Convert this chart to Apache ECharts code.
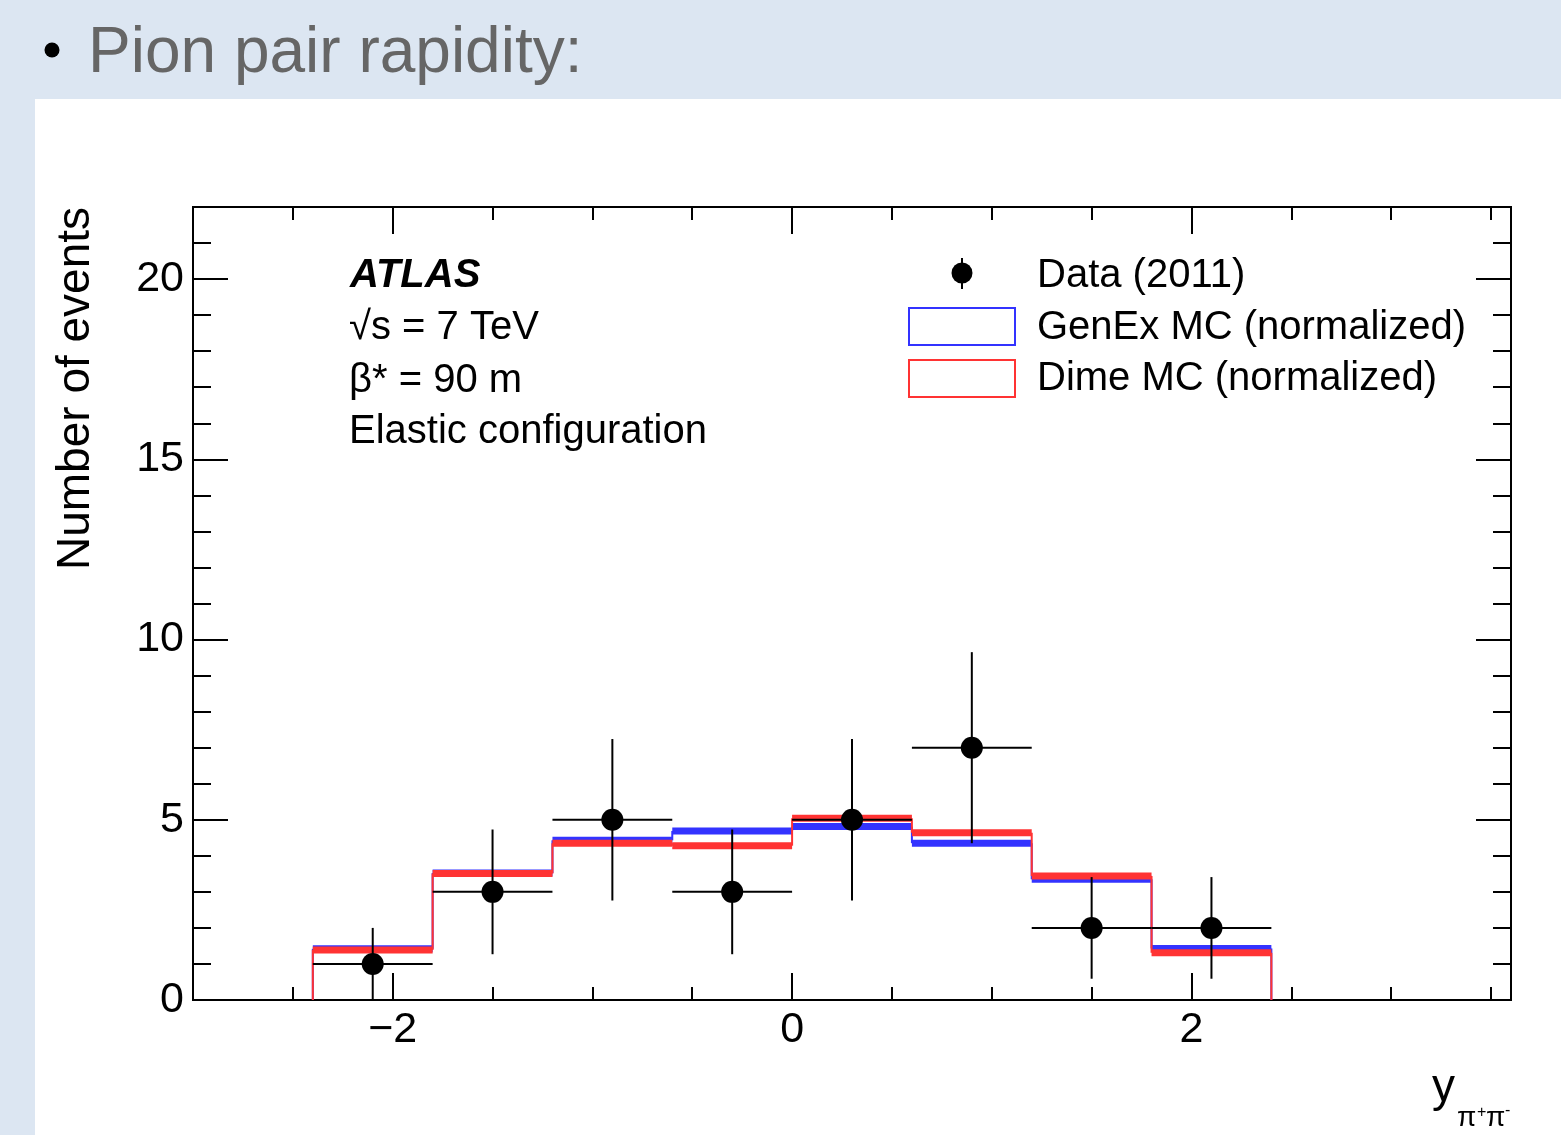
<!DOCTYPE html>
<html>
<head>
<meta charset="utf-8">
<title>Pion pair rapidity</title>
<script src="https://cdn.jsdelivr.net/npm/echarts@6.0.0/dist/echarts.min.js"></script>
<style>
  html, body { margin: 0; padding: 0; }
  body { width: 1561px; height: 1135px; background: #dce6f2; position: relative; overflow: hidden; }
  #panel { position: absolute; left: 35px; top: 99px; width: 1526px; height: 1036px; background: #fff; }
  #chart { position: absolute; left: 0; top: 0; width: 1561px; height: 1135px; }
</style>
</head>
<body>
<div id="panel"></div>
<div id="chart"></div>
<script>
// histogram bins in y(pi+pi-)
var binEdges = [-2.4, -1.8, -1.2, -0.6, 0, 0.6, 1.2, 1.8, 2.4];
// Data (2011): counts and stat. errors
var dataCounts = [1, 3, 5, 3, 5, 7, 2, 2];
var dataErrors = [1.0, 1.73, 2.24, 1.73, 2.24, 2.65, 1.41, 1.41];
// MC predictions (normalized)
var genexValues = [1.42, 3.52, 4.43, 4.69, 4.81, 4.35, 3.35, 1.43];
var dimeValues = [1.39, 3.51, 4.35, 4.28, 5.04, 4.64, 3.44, 1.31];
// tick labels / tick positions
var xMajorTicks = [-2, 0, 2];
var xMinorTicks = [-2.5, -2, -1.5, -1, -0.5, 0, 0.5, 1, 1.5, 2, 2.5, 3, 3.5];
var yMajorTicks = [0, 5, 10, 15, 20];
var yMinorTicks = [1, 2, 3, 4, 6, 7, 8, 9, 11, 12, 13, 14, 16, 17, 18, 19, 21];

var FONT = '"Liberation Sans", Arial, Helvetica, sans-serif';

// rows for custom series
var dataRows = dataCounts.map(function (v, i) {
  return [binEdges[i], binEdges[i + 1], v, dataErrors[i]];
});
function mcRows(values) {
  return values.map(function (v, i) {
    return [binEdges[i], binEdges[i + 1], v, i === 0 ? 0 : values[i - 1], i === values.length - 1 ? 1 : 0];
  });
}

// step histogram with a thick band on each bin
function histItem(color) {
  return function (params, api) {
    var x0 = api.value(0), x1 = api.value(1), y = api.value(2);
    var yPrev = api.value(3), last = api.value(4);
    var pL = api.coord([x0, y]), pR = api.coord([x1, y]);
    var pPrev = api.coord([x0, yPrev]), pZero = api.coord([x1, 0]);
    var children = [
      { type: 'rect', shape: { x: pL[0], y: pL[1] - 3.5, width: pR[0] - pL[0], height: 7 }, style: { fill: color } },
      { type: 'line', shape: { x1: pL[0], y1: pPrev[1], x2: pL[0], y2: pL[1] }, style: { stroke: color, lineWidth: 2 } }
    ];
    if (last) {
      children.push({ type: 'line', shape: { x1: pR[0], y1: pR[1], x2: pR[0], y2: pZero[1] }, style: { stroke: color, lineWidth: 2 } });
    }
    return { type: 'group', children: children };
  };
}

// data points with x (bin width) and y (stat) error bars
function dataItem(params, api) {
  var x0 = api.value(0), x1 = api.value(1), y = api.value(2), e = api.value(3);
  var xc = (x0 + x1) / 2;
  var c = api.coord([xc, y]), l = api.coord([x0, y]), r = api.coord([x1, y]);
  var lo = api.coord([xc, Math.max(0, y - e)]), hi = api.coord([xc, y + e]);
  var st = { stroke: '#000', lineWidth: 2 };
  return {
    type: 'group',
    children: [
      { type: 'line', shape: { x1: l[0], y1: l[1], x2: r[0], y2: r[1] }, style: st },
      { type: 'line', shape: { x1: lo[0], y1: lo[1], x2: hi[0], y2: hi[1] }, style: st },
      { type: 'circle', shape: { cx: c[0], cy: c[1], r: 11 }, style: { fill: '#000' } }
    ]
  };
}

function xAxisDef(pos, ticks, len, withLabels) {
  return {
    type: 'value', position: pos, min: -3, max: 3.6,
    axisLine: { show: true, onZero: false, lineStyle: { color: '#000', width: 2 } },
    axisTick: { show: true, inside: true, length: len, customValues: ticks, lineStyle: { color: '#000', width: 2 } },
    axisLabel: {
      show: withLabels, customValues: xMajorTicks, margin: 9,
      color: '#000', fontSize: 43, fontFamily: FONT,
      formatter: function (v) { return v < 0 ? '\u2212' + Math.abs(v) : String(v); }
    },
    splitLine: { show: false }
  };
}
function yAxisDef(pos, ticks, len, withLabels) {
  return {
    type: 'value', position: pos, min: 0, max: 22,
    axisLine: { show: true, onZero: false, lineStyle: { color: '#000', width: 2 } },
    axisTick: { show: true, inside: true, length: len, customValues: ticks, lineStyle: { color: '#000', width: 2 } },
    axisLabel: { show: withLabels, customValues: yMajorTicks, margin: 9, color: '#000', fontSize: 43, fontFamily: FONT },
    splitLine: { show: false }
  };
}

function txt(x, y, s, font, extra) {
  var el = { type: 'text', x: x, y: y, z: 100, style: { text: s, font: font, fill: '#000', textAlign: 'left', textVerticalAlign: 'middle' } };
  if (extra) { for (var k in extra) el[k] = extra[k]; }
  return el;
}

var chart = echarts.init(document.getElementById('chart'));
chart.setOption({
  backgroundColor: 'transparent',
  animation: false,
  grid: { left: 193, top: 207, width: 1318, height: 793, containLabel: false, outerBoundsMode: 'none' },
  xAxis: [
    xAxisDef('bottom', xMajorTicks, 27, true),
    xAxisDef('bottom', xMinorTicks, 13, false),
    xAxisDef('top', xMajorTicks, 27, false),
    xAxisDef('top', xMinorTicks, 13, false)
  ],
  yAxis: [
    yAxisDef('left', yMajorTicks, 35, true),
    yAxisDef('left', yMinorTicks, 18, false),
    yAxisDef('right', yMajorTicks, 35, false),
    yAxisDef('right', yMinorTicks, 18, false)
  ],
  series: [
    { name: 'GenEx MC (normalized)', type: 'custom', renderItem: histItem('#3333ff'), data: mcRows(genexValues), encode: { x: [0, 1], y: 2 }, z: 2 },
    { name: 'Dime MC (normalized)', type: 'custom', renderItem: histItem('#ff3333'), data: mcRows(dimeValues), encode: { x: [0, 1], y: 2 }, z: 3 },
    { name: 'Data (2011)', type: 'custom', renderItem: dataItem, data: dataRows, encode: { x: [0, 1], y: 2 }, z: 4 }
  ],
  graphic: [
    // slide title
    { type: 'circle', shape: { cx: 52, cy: 50, r: 7.5 }, style: { fill: '#000' } },
    { type: 'text', x: 88, y: 54, style: { text: 'Pion pair rapidity:', font: '64px ' + FONT, fill: '#666666', textAlign: 'left', textVerticalAlign: 'middle' } },
    // axis titles
    txt(76, 570, 'Number of events', '46px ' + FONT, { rotation: Math.PI / 2 }),
    txt(1432, 1088, 'y', '46px ' + FONT),
    txt(1457, 1118, '\u03c0', '28px ' + FONT),
    txt(1477, 1113, '+', '16px ' + FONT),
    txt(1486, 1118, '\u03c0', '28px ' + FONT),
    txt(1505, 1111, '-', '16px ' + FONT),
    // ATLAS label
    txt(350, 276, 'ATLAS', 'italic bold 40px ' + FONT),
    txt(349, 328, '\u221as = 7 TeV', '40px ' + FONT),
    txt(349, 381, '\u03b2* = 90 m', '40px ' + FONT),
    txt(349, 432, 'Elastic configuration', '40px ' + FONT),
    // legend
    { type: 'line', z: 100, shape: { x1: 962, y1: 258, x2: 962, y2: 289 }, style: { stroke: '#000', lineWidth: 2 } },
    { type: 'circle', z: 100, shape: { cx: 962, cy: 273, r: 10.5 }, style: { fill: '#000' } },
    txt(1037, 276, 'Data (2011)', '40px ' + FONT),
    { type: 'rect', z: 100, shape: { x: 909, y: 308, width: 106, height: 37 }, style: { fill: 'none', stroke: '#3333ff', lineWidth: 2 } },
    txt(1037, 328, 'GenEx MC (normalized)', '40px ' + FONT),
    { type: 'rect', z: 100, shape: { x: 909, y: 360, width: 106, height: 37 }, style: { fill: 'none', stroke: '#ff3333', lineWidth: 2 } },
    txt(1037, 379, 'Dime MC (normalized)', '40px ' + FONT)
  ]
});
</script>
</body>
</html>
